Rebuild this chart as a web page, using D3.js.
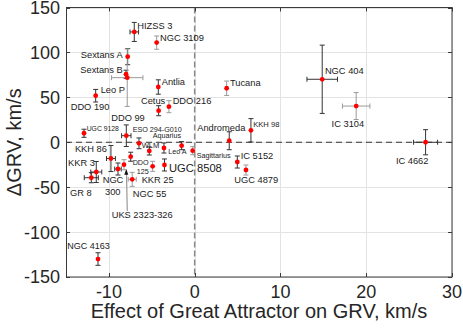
<!DOCTYPE html>
<html><head><meta charset="utf-8">
<script src="https://cdn.jsdelivr.net/npm/d3@7"></script>
<style>
html,body{margin:0;padding:0;background:#fff;}
svg{display:block;font-family:"Liberation Sans",Arial,Helvetica,sans-serif;}
</style></head>
<body><svg id="c" width="463" height="331"></svg>
<script>
// ---- data ----
const names = ["HIZSS 3","NGC 3109","Sextans A","Sextans B","Leo P","DDO 190","Antlia","Cetus","DDO 216","Tucana",
  "NGC 404","IC 3104","IC 4662","Andromeda","KKH 98","IC 5152","UGC 4879","Sagittarius","Leo A","Aquarius",
  "UGC 8508","KKR 25","UGC 9128","DDO 99","ESO 294-G010","WLM","KKH 86","DDO 125","NGC 300","UKS 2323-326",
  "NGC 55","KKR 3","GR 8","NGC 4163"];
const gaEffect = [-7.04,-4.43,-7.81,-8.0,-7.86,-11.54,-4.24,-4.2,-3.0,3.73,
  14.87,18.83,26.92,4.03,6.56,4.97,5.98,-0.23,-1.52,-3.58,
  -3.52,-4.9,-12.9,-7.97,-6.49,-5.29,-9.76,-7.46,-8.94,-8.24,
  -7.28,-11.47,-12.05,-11.27];
const dGRV = [122.8,110.9,95.3,75.7,71.9,51.8,61.5,35.1,39.6,60.1,
  70.1,40.3,0,1.7,13.3,-22,-30.9,-9.4,-3.8,-6.4,
  -25.3,-26.8,10,7.3,-1.2,-9.7,-18.1,-16.1,-29.8,-25,
  -41.3,-33.1,-39.5,-130];
const xErr = [0.5,0,0,0,1.83,0,0,0,0,0,
  1.78,1.6,1.4,0,0,0,0,0,0,0,
  0,0,0,0.55,0,0,0.52,0,0.38,0,
  0.47,0.64,0.82,0];
const yErr = [10.6,7.4,9,4.5,32,7,8,5.6,6.7,8,
  38,15,14,10,13,6.7,5.6,4.5,4.5,5.6,
  6.7,5.6,4.5,12,6,4.5,14.5,5,6.7,5.6,
  7.8,11.7,5.6,7];
const xTicks = [-10,0,10,20,30];
const yTicks = [-150,-100,-50,0,50,100,150];

// ---- label styling (pixel offsets from the point) ----
const labelStyle = {
  "HIZSS 3":{dx:3,dy:-3}, "NGC 3109":{dx:3.3,dy:-2}, "Sextans A":{dx:-5,dy:1.6,a:"end"},
  "Sextans B":{dx:-3.3,dy:-1,a:"end"}, "Leo P":{dx:-2.3,dy:15.6,a:"end"}, "DDO 190":{dx:-25,dy:14.3},
  "Antlia":{dx:3.4,dy:-2}, "Cetus":{dx:-5.5,dy:-6.4,a:"middle"}, "DDO 216":{dx:3.7,dy:-3},
  "Tucana":{dx:3.3,dy:-2.6}, "NGC 404":{dx:2.7,dy:-5.3}, "IC 3104":{dx:-24.6,dy:20.7},
  "IC 4662":{dx:-29.7,dy:21.7}, "Andromeda":{dx:-32,dy:-10}, "KKH 98":{dx:2.3,dy:-3,s:7.6},
  "IC 5152":{dx:3.4,dy:-2.7}, "UGC 4879":{dx:-11.7,dy:13.3}, "Sagittarius":{dx:4,dy:7,s:7.2},
  "Leo A":{dx:-13.4,dy:8.6,s:7.2}, "Aquarius":{dx:-11.3,dy:-9.7,s:7.2}, "UGC 8508":{dx:4.5,dy:6.7,s:11.2},
  "KKR 25":{dx:-11,dy:17}, "UGC 9128":{dx:2.7,dy:-2.3,s:6.8}, "DDO 99":{dx:1.7,dy:-14.7,a:"middle"},
  "ESO 294-G010":{dx:-6.3,dy:-11,s:7.2}, "WLM":{dx:-7.6,dy:-3.3,s:7.6}, "KKH 86":{dx:-4,dy:-6.8,a:"end"},
  "DDO 125":{dx:2,dy:8,s:7.2,lines:[["DDO",0,0],["125",4,9.5]]},
  "NGC 300":{dx:-15.3,dy:14,lines:[["NGC",0,0],["300",2.3,12]]},
  "UKS 2323-326":{dx:-12.3,dy:53.6}, "NGC 55":{dx:0.5,dy:17.4}, "KKR 3":{dx:-1.3,dy:-6.3,a:"end"},
  "GR 8":{dx:0.4,dy:18.3,a:"end"}, "NGC 4163":{dx:-30.7,dy:-9.7,s:9}
};
const grayBars = new Set(["Leo P","Sagittarius","NGC 55","KKR 25","DDO 216","Tucana","NGC 3109","UGC 4879","IC 3104","UKS 2323-326"]);

const W=463,H=331, L=66, R=452, T=7.5, B=277;
const svg = d3.select("#c");
const x = d3.scaleLinear().domain([-15,30]).range([L,R]);
const y = d3.scaleLinear().domain([-150,150]).range([B,T]);

// grid
const g = svg.append("g");
g.selectAll("line.gx").data(xTicks).join("line")
  .attr("x1",d=>Math.round(x(d))+0.5).attr("x2",d=>Math.round(x(d))+0.5).attr("y1",T).attr("y2",B)
  .attr("stroke","#e3e3e3").attr("stroke-width",1);
g.selectAll("line.gy").data(yTicks).join("line")
  .attr("y1",d=>Math.round(y(d))+0.5).attr("y2",d=>Math.round(y(d))+0.5).attr("x1",L).attr("x2",R)
  .attr("stroke","#e3e3e3").attr("stroke-width",1);

// zero dashed lines
svg.append("line").attr("x1",x(0)).attr("x2",x(0)).attr("y1",T).attr("y2",B)
  .attr("stroke","#8a8a8a").attr("stroke-width",1.5).attr("stroke-dasharray","6,3");
svg.append("line").attr("x1",L).attr("x2",R).attr("y1",y(0)).attr("y2",y(0))
  .attr("stroke","#333").attr("stroke-width",1).attr("stroke-dasharray","6,4");

// box
svg.append("rect").attr("x",L+0.5).attr("y",T).attr("width",R-L-0.5).attr("height",B-T)
  .attr("fill","none").attr("stroke","#3a3a3a").attr("stroke-width",1);

// ticks (inward, all sides)
const tl=4;
xTicks.forEach(d=>{
  const px=Math.round(x(d))+0.5;
  svg.append("line").attr("x1",px).attr("x2",px).attr("y1",B).attr("y2",B-tl).attr("stroke","#3a3a3a");
  svg.append("line").attr("x1",px).attr("x2",px).attr("y1",T).attr("y2",T+tl).attr("stroke","#3a3a3a");
});
yTicks.forEach(d=>{
  const py=Math.round(y(d))+0.5;
  svg.append("line").attr("x1",L).attr("x2",L+tl).attr("y1",py).attr("y2",py).attr("stroke","#3a3a3a");
  svg.append("line").attr("x1",R).attr("x2",R-tl).attr("y1",py).attr("y2",py).attr("stroke","#3a3a3a");
});
const fmt = d => (d<0?"-":"")+Math.abs(d);
svg.selectAll("text.xt").data(xTicks).join("text")
  .attr("x",d=>x(d)).attr("y",B+21).attr("text-anchor","middle").attr("font-size",18).attr("fill","#262626").text(fmt);
svg.selectAll("text.yt").data(yTicks).join("text")
  .attr("x",L-6).attr("y",d=>y(d)).attr("dy","0.36em").attr("text-anchor","end").attr("font-size",18).attr("fill","#262626").text(fmt);

svg.append("text").attr("x",(L+R)/2).attr("y",318).attr("text-anchor","middle").attr("font-size",20).attr("fill","#262626")
  .text("Effect of Great Attractor on GRV, km/s");
svg.append("text").attr("transform",`translate(21,${(T+B)/2}) rotate(-90)`).attr("text-anchor","middle")
  .attr("font-size",20).attr("fill","#262626").text("ΔGRV, km/s");

// data
const pts = names.map((n,i)=>({n, x:gaEffect[i], y:dGRV[i], ex:xErr[i], ey:yErr[i]}));
const cap=2.5;
const eb = svg.append("g");
pts.forEach(p=>{
  const c = grayBars.has(p.n) ? "#9a9a9a" : "#333";
  const cx=x(p.x), cy=y(p.y);
  if(p.ey>0){
    const y1=y(p.y+p.ey), y2=y(p.y-p.ey);
    eb.append("line").attr("x1",cx).attr("x2",cx).attr("y1",y1).attr("y2",y2).attr("stroke",c).attr("stroke-width",1);
    eb.append("line").attr("x1",cx-cap).attr("x2",cx+cap).attr("y1",y1).attr("y2",y1).attr("stroke",c).attr("stroke-width",1);
    eb.append("line").attr("x1",cx-cap).attr("x2",cx+cap).attr("y1",y2).attr("y2",y2).attr("stroke",c).attr("stroke-width",1);
  }
  if(p.ex>0){
    const x1=x(p.x-p.ex), x2=x(p.x+p.ex);
    eb.append("line").attr("x1",x1).attr("x2",x2).attr("y1",cy).attr("y2",cy).attr("stroke",c).attr("stroke-width",1);
    eb.append("line").attr("x1",x1).attr("x2",x1).attr("y1",cy-cap).attr("y2",cy+cap).attr("stroke",c).attr("stroke-width",1);
    eb.append("line").attr("x1",x2).attr("x2",x2).attr("y1",cy-cap).attr("y2",cy+cap).attr("stroke",c).attr("stroke-width",1);
  }
});

// UKS annotation arrow
const uks = pts.find(p=>p.n==="UKS 2323-326");
{
  const ux=x(uks.x), uy=y(uks.y);
  svg.append("line").attr("x1",ux+3.3).attr("x2",ux+2.5).attr("y1",uy+46.3).attr("y2",uy+9)
    .attr("stroke","#9a9a9a").attr("stroke-width",1.2);
  svg.append("path").attr("d",`M${ux+2.3},${uy+4.3} L${ux+0.3},${uy+10} L${ux+4.3},${uy+10} Z`).attr("fill","#111");
}

svg.append("g").selectAll("circle").data(pts).join("circle")
  .attr("cx",d=>x(d.x)).attr("cy",d=>y(d.y)).attr("r",2.4).attr("fill","#ff0000");

// labels
const lg = svg.append("g");
pts.forEach(p=>{
  const s = labelStyle[p.n]; if(!s) return;
  const cx=x(p.x)+s.dx, cy=y(p.y)+s.dy;
  const t = lg.append("text").attr("x",cx).attr("y",cy).attr("font-size",s.s||9.3)
    .attr("text-anchor",s.a||"start").attr("fill","#1a1a1a");
  if(s.lines){
    s.lines.forEach(([txt,ox,oy])=>{
      t.append("tspan").attr("x",cx+ox).attr("y",cy+oy).text(txt);
    });
  } else t.text(p.n);
});
</script></body></html>
